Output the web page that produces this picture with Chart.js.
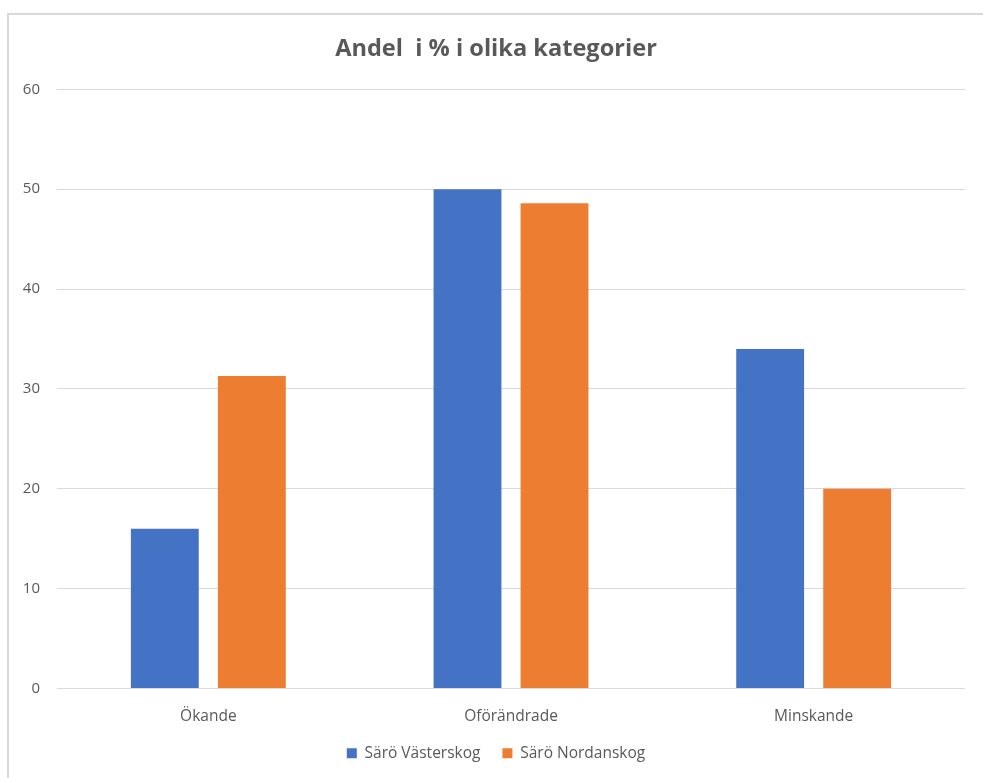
<!DOCTYPE html>
<html>
<head>
<meta charset="utf-8">
<script src="https://cdn.jsdelivr.net/npm/chart.js@4"></script>
<style>
  html, body { margin: 0; padding: 0; background: #fff; }
  #frame {
    position: absolute; left: 7px; top: 13px;
    width: 974px; height: 763px;
    border-left: 2px solid #d9d9d9; border-top: 2px solid #d9d9d9;
  }
</style>
</head>
<body>
<div id="frame"><canvas id="chart" width="974" height="763"></canvas></div>
<script>
const categories = ["Ökande", "Oförändrade", "Minskande"];
const vasterskog = [16, 50, 34];
const nordanskog = [31.3, 48.6, 20];
const seriesNames = ["Särö Västerskog", "Särö Nordanskog"];

const textColor = "#595959";
const gridColor = "#d9d9d9";
const font = "'Open Sans', 'Liberation Sans', sans-serif";

new Chart(document.getElementById("chart"), {
  type: "bar",
  data: {
    labels: categories,
    datasets: [
      { label: seriesNames[0], data: vasterskog, backgroundColor: "#4472C4" },
      { label: seriesNames[1], data: nordanskog, backgroundColor: "#ED7D31" }
    ]
  },
  options: {
    responsive: false,
    animation: false,
    categoryPercentage: 0.575,
    barPercentage: 0.78,
    layout: { padding: { left: 0, right: 0, top: 0, bottom: 7 } },
    plugins: {
      title: {
        display: true,
        text: "Andel  i % i olika kategorier",
        color: textColor,
        font: { family: font, size: 23.6, weight: "bold" },
        padding: { top: 20, bottom: 26 }
      },
      legend: {
        position: "bottom",
        labels: {
          color: textColor,
          font: { family: font, size: 15.5 },
          boxWidth: 10,
          boxHeight: 10,
          padding: 22
        }
      },
      tooltip: { enabled: false }
    },
    scales: {
      x: {
        grid: { display: false, drawTicks: false },
        border: { display: false },
        ticks: { color: textColor, font: { family: font, size: 15.5 }, padding: 19 },
        afterFit: (s) => { s.height = 35; }
      },
      y: {
        min: 0,
        max: 60,
        grid: { color: gridColor, lineWidth: 1, drawTicks: false },
        border: { display: false },
        ticks: { stepSize: 10, color: textColor, font: { family: font, size: 15 }, padding: 17 },
        afterFit: (s) => { s.width = 48; }
      },
      // empty right-hand axis, only keeps the right margin so the title stays centred
      yRight: {
        position: "right",
        grid: { display: false, drawTicks: false },
        border: { display: false },
        ticks: { display: false },
        afterFit: (s) => { s.width = 18; }
      }
    }
  }
});
</script>
</body>
</html>
